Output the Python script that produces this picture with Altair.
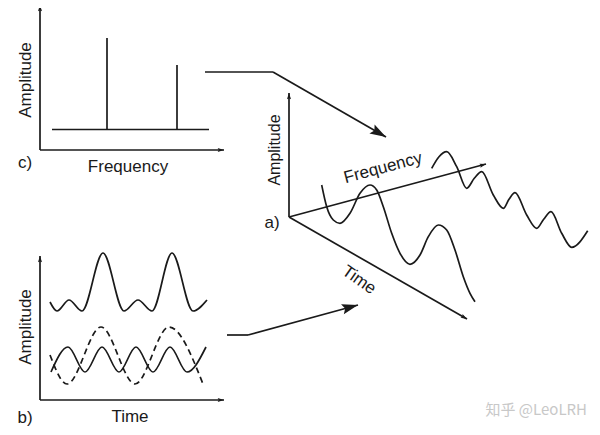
import altair as alt
import pandas as pd

# ---------------- panel c) amplitude spectrum ----------------
spec_freq = [107, 177]          # positions of the two spectral lines
spec_amp = [38, 65]             # tops of the two spectral lines
spec_floor_y = 129.5
spec_floor_x = [52, 209]

# ---------------- panel b) time signals ----------------
sum_t = [50, 57, 69, 82, 103, 124, 138, 152, 172, 193, 207]
sum_a = [302, 311, 300, 311, 253, 311, 300, 311, 253, 311, 300]
fast_t = [51, 68, 85, 102, 119, 136, 153, 170, 187, 206]
fast_a = [372, 347, 372, 347, 372, 347, 372, 347, 372, 347]
slow_t = [50, 67, 101, 135, 169, 203]
slow_a = [355, 384, 327, 384, 327, 384]

# ---------------- panel a) 3-D view ----------------
front_x = [321.7, 326.7, 333.3, 340, 350, 360, 370, 376.7, 383.3, 391.7, 400, 410,
           420, 428.3, 438.3, 446.7, 455, 463.3, 470, 475]
front_y = [185, 206.7, 220, 223.3, 213.3, 193.3, 185, 190, 206.7, 233.3, 253.3, 264.3,
           255, 236.7, 225, 230, 250, 276.7, 293.3, 301.7]
back_x = [431.7, 439, 446.7, 456.7, 466.7, 474.3, 481.7, 493.3, 503.3, 509, 515,
          526.7, 536.7, 543.7, 551, 561.7, 571.7, 587.7]
back_y = [168.3, 156.7, 151.7, 166.7, 188.3, 178.3, 171.7, 195, 208.3, 199.3, 192.7,
          215, 228.3, 219.3, 211.7, 233.3, 247.3, 230.7]

# axes: (x1, y1, x2, y2)
axis_x1 = [40, 40, 40, 40, 289, 289, 289]
axis_y1 = [150, 150, 400, 400, 217, 217, 217]
axis_x2 = [40, 224, 40, 224, 289, 486, 467]
axis_y2 = [5, 150, 256, 400, 93, 164, 319]
axis_dir = [0, 90, 0, 90, 0, 74.9, 119.8]

# connecting arrows (bent polylines)
link_x1 = [205, 273, 227, 248]
link_y1 = [72, 72, 335, 335]
link_x2 = [273, 386, 248, 358]
link_y2 = [72, 137, 335, 305]
link_tip_x = [386, 358]
link_tip_y = [137, 305]
link_dir = [119.7, 74.7]

# labels
label_text = ["Amplitude", "c)", "Frequency",
              "Amplitude", "b)", "Time",
              "Amplitude", "a)", "Frequency", "Time"]
label_x = [26, 25, 128, 26, 25, 130, 275, 272, 383, 359]
label_y = [80, 163, 167, 327, 418, 417, 150, 223, 168, 280]
label_angle = [270, 0, 0, 270, 0, 0, 270, 0, 345, 35]
label_size = [17, 17, 17, 17, 17, 17, 16, 17, 17, 17]

watermark = "知乎 @LeoLRH"

# ---------------- build tables ----------------
INK = "#1a1a1a"
xs = alt.Scale(domain=[8, 592], nice=False, zero=False)
ys = alt.Scale(domain=[8, 427], nice=False, zero=False, reverse=True)

segs = []
for i in range(len(axis_x1)):
    segs.append(dict(x=axis_x1[i], y=axis_y1[i], x2=axis_x2[i], y2=axis_y2[i]))
for i in range(len(link_x1)):
    segs.append(dict(x=link_x1[i], y=link_y1[i], x2=link_x2[i], y2=link_y2[i]))
segs.append(dict(x=spec_floor_x[0], y=spec_floor_y, x2=spec_floor_x[1], y2=spec_floor_y))
for f, a in zip(spec_freq, spec_amp):
    segs.append(dict(x=f, y=spec_floor_y, x2=f, y2=a))
seg_df = pd.DataFrame(segs)

waves = []
for name, xx, yy in [("sum", sum_t, sum_a), ("fast", fast_t, fast_a),
                     ("front", front_x, front_y), ("back", back_x, back_y)]:
    for a, b in zip(xx, yy):
        waves.append(dict(series=name, x=a, y=b))
wave_df = pd.DataFrame(waves)
slow_df = pd.DataFrame(dict(x=slow_t, y=slow_a))

heads = []
for i in range(len(axis_x2)):
    heads.append(dict(x=axis_x2[i], y=axis_y2[i], angle=axis_dir[i], size=40))
for i in range(len(link_tip_x)):
    heads.append(dict(x=link_tip_x[i], y=link_tip_y[i], angle=link_dir[i], size=260))
head_df = pd.DataFrame(heads)

label_df = pd.DataFrame(dict(text=label_text, x=label_x, y=label_y,
                             angle=label_angle, size=label_size))
wm_df = pd.DataFrame(dict(text=[watermark], x=[587], y=[410]))

X = alt.X("x:Q", scale=xs, axis=None)
Y = alt.Y("y:Q", scale=ys, axis=None)

rules = alt.Chart(seg_df).mark_rule(color=INK, strokeWidth=1.7).encode(
    x=X, y=Y, x2="x2:Q", y2="y2:Q")

lines = alt.Chart(wave_df).mark_line(color=INK, strokeWidth=1.7, interpolate="monotone").encode(
    x=X, y=Y, detail="series:N")

dashed = alt.Chart(slow_df).mark_line(color=INK, strokeWidth=1.7, interpolate="monotone",
                                      strokeDash=[6, 4]).encode(x=X, y=Y)

arrow_shape = "M0,0L0.65,2L0,1.65L-0.65,2Z"
tips = alt.Chart(head_df).mark_point(shape=arrow_shape, filled=True, color=INK, opacity=1).encode(
    x=X, y=Y, angle=alt.Angle("angle:Q", scale=None), size=alt.Size("size:Q", scale=None))

labels = alt.Chart(label_df).mark_text(font="Liberation Sans", color="#1a1a1a",
                                       align="center", baseline="middle").encode(
    x=X, y=Y, text="text:N", angle=alt.Angle("angle:Q", scale=None),
    size=alt.Size("size:Q", scale=None))

wm = alt.Chart(wm_df).mark_text(font="Noto Sans CJK SC", color="#c8c8c8", fontSize=15,
                                align="right", baseline="middle").encode(
    x=X, y=Y, text="text:N")

chart = alt.layer(rules, lines, dashed, tips, labels, wm).properties(
    width=584, height=419, padding=0,
    autosize=alt.AutoSizeParams(type="none"),
).configure_view(stroke=None)

chart.save("out.html", embed_options={"renderer": "svg", "actions": False})
